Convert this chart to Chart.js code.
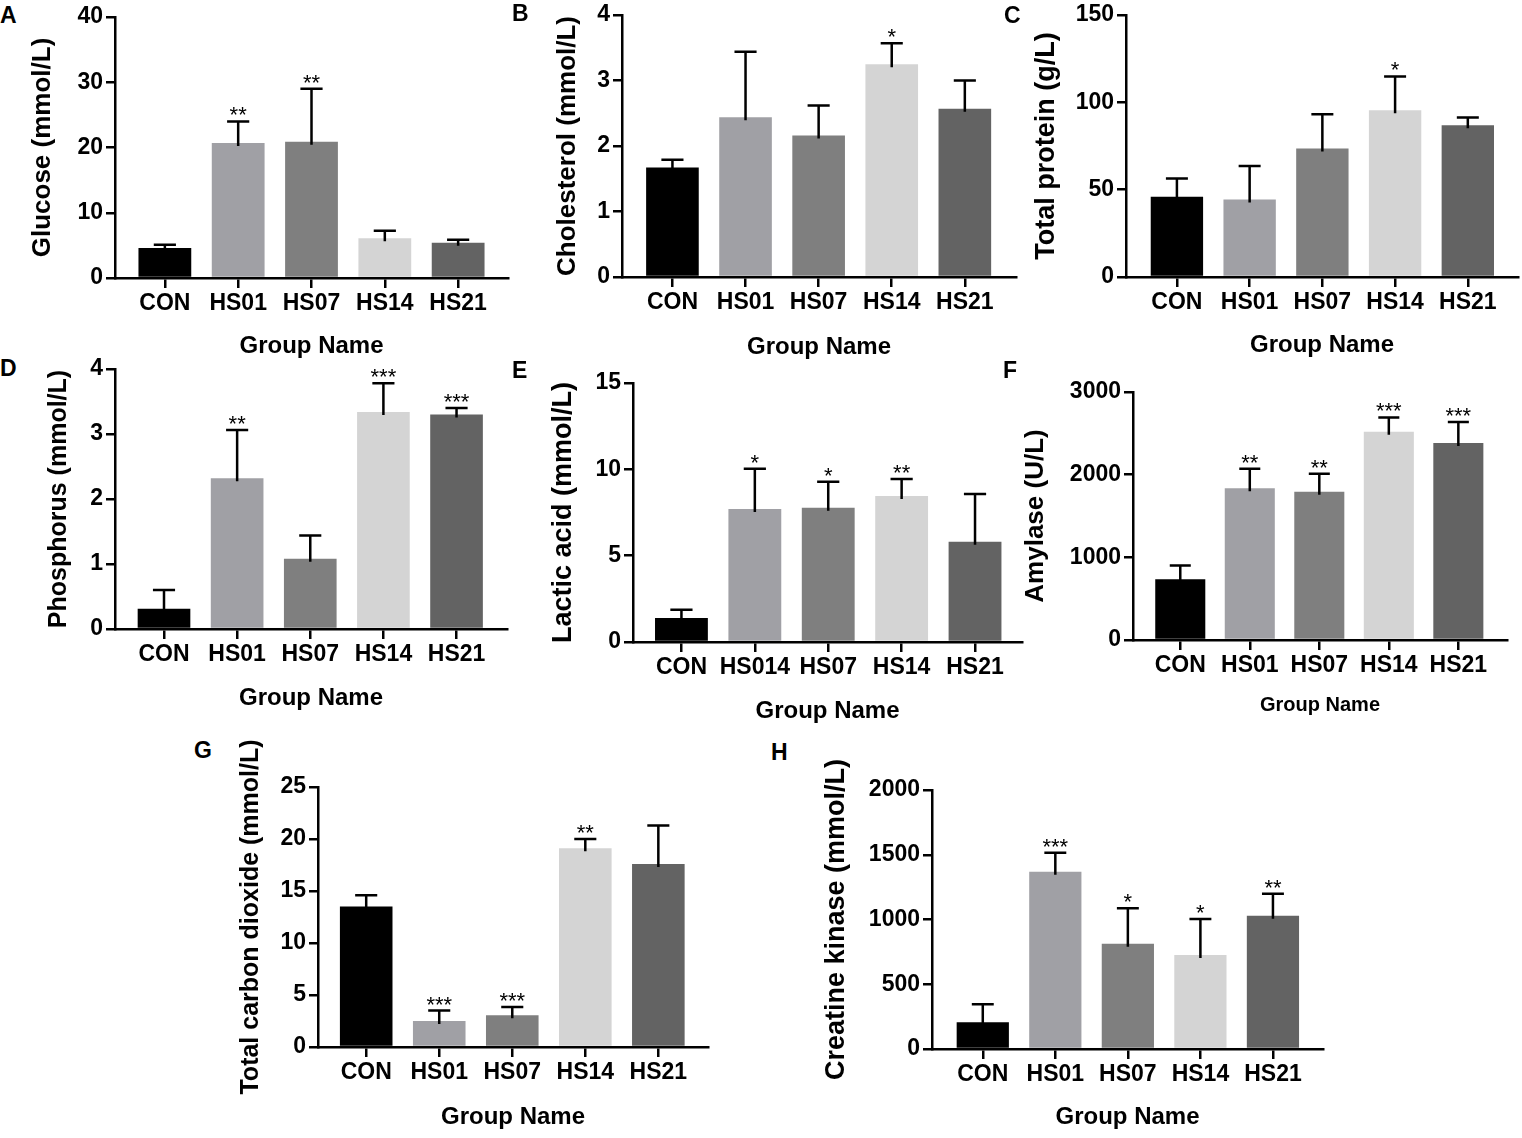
<!DOCTYPE html>
<html>
<head>
<meta charset="utf-8">
<script src="https://cdn.jsdelivr.net/npm/chart.js@4.4.1/dist/chart.umd.min.js"></script>
<style>
  body { margin: 0; background: #fff; width: 1522px; height: 1138px; position: relative; overflow: hidden;
         font-family: 'Liberation Sans', Arial, sans-serif; }
  .panel { position: absolute; }
  .tag { position: absolute; font-weight: bold; font-size: 23px; line-height: 1; color: #000; }
</style>
</head>
<body>
<script>
const FONT = "'Liberation Sans', Arial, sans-serif";

const groups = ['CON', 'HS01', 'HS07', 'HS14', 'HS21'];
const groupsLactic = ['CON', 'HS014', 'HS07', 'HS14', 'HS21'];
const barColors = ['#000000', '#a0a0a5', '#7f7f7f', '#d4d4d4', '#636363'];

// A - glucose
const glucoseMean = [4.6, 20.7, 20.9, 6.1, 5.4];
const glucoseSD = [0.5, 3.3, 8.1, 1.15, 0.45];
const glucoseSig = ['', '**', '**', '', ''];
// B - cholesterol
const cholMean = [1.67, 2.44, 2.16, 3.25, 2.57];
const cholSD = [0.12, 1.0, 0.46, 0.32, 0.43];
const cholSig = ['', '', '', '*', ''];
// C - total protein
const proteinMean = [45.9, 44.3, 73.6, 95.5, 86.9];
const proteinSD = [10.5, 19.3, 19.6, 19.3, 4.4];
const proteinSig = ['', '', '', '*', ''];
// D - phosphorus
const phosMean = [0.31, 2.32, 1.08, 3.34, 3.30];
const phosSD = [0.29, 0.74, 0.36, 0.44, 0.10];
const phosSig = ['', '**', '', '***', '***'];
// E - lactic acid
const lacticMean = [1.39, 7.70, 7.78, 8.46, 5.81];
const lacticSD = [0.48, 2.34, 1.50, 0.98, 2.76];
const lacticSig = ['', '*', '*', '**', ''];
// F - amylase
const amylaseMean = [735, 1837, 1792, 2519, 2382];
const amylaseSD = [165, 234, 218, 173, 254];
const amylaseSig = ['', '**', '**', '***', '***'];
// G - total carbon dioxide
const co2Mean = [13.5, 2.5, 3.05, 19.1, 17.6];
const co2SD = [1.1, 1.0, 0.8, 0.9, 3.7];
const co2Sig = ['', '***', '***', '**', ''];
// H - creatine kinase
const ckMean = [206, 1369, 813, 726, 1029];
const ckSD = [139, 147, 274, 278, 170];
const ckSig = ['', '***', '*', '*', '**'];

// layout of each panel on the page (axis corners, title spots)
const panels = [
  { tag: 'A', tagPos: [0, 4], labels: groups, mean: glucoseMean, sd: glucoseSD, sig: glucoseSig,
    title: 'Glucose (mmol/L)', max: 40, step: 10,
    L: 115, R: 508, T: 16.7, B: 278.3, padL: 0.68, padR: 0.68, titleX: 43, titleSize: 26, xTitleSize: 24, xTitleY: 69 },
  { tag: 'B', tagPos: [512, 2], labels: groups, mean: cholMean, sd: cholSD, sig: cholSig,
    title: 'Cholesterol (mmol/L)', max: 4, step: 1,
    L: 621.7, R: 1016, T: 15, B: 276.7, padL: 0.69, padR: 0.70, titleX: 568, titleSize: 26, xTitleSize: 24, xTitleY: 70.5 },
  { tag: 'C', tagPos: [1004, 4], labels: groups, mean: proteinMean, sd: proteinSD, sig: proteinSig,
    title: 'Total protein (g/L)', max: 150, step: 50,
    L: 1126, R: 1518, T: 15, B: 276.7, padL: 0.70, padR: 0.69, titleX: 1046, titleSize: 27, xTitleSize: 24, xTitleY: 69 },
  { tag: 'D', tagPos: [0, 357], labels: groups, mean: phosMean, sd: phosSD, sig: phosSig,
    title: 'Phosphorus (mmol/L)', max: 4, step: 1,
    L: 115, R: 507, T: 369, B: 629, padL: 0.67, padR: 0.69, titleX: 59, titleSize: 25, xTitleSize: 24, xTitleY: 69.3 },
  { tag: 'E', tagPos: [512, 359], labels: groupsLactic, mean: lacticMean, sd: lacticSD, sig: lacticSig,
    title: 'Lactic acid (mmol/L)', max: 15, step: 5,
    L: 633.3, R: 1022, T: 383.3, B: 642.3, padL: 0.66, padR: 0.64, titleX: 563, titleSize: 27, xTitleSize: 24, xTitleY: 70 },
  { tag: 'F', tagPos: [1003, 359], labels: groups, mean: amylaseMean, sd: amylaseSD, sig: amylaseSig,
    title: 'Amylase (U/L)', max: 3000, step: 1000,
    L: 1132.7, R: 1506.7, T: 392.3, B: 640, padL: 0.68, padR: 0.70, titleX: 1036, titleSize: 26, xTitleSize: 20, xTitleY: 65 },
  { tag: 'G', tagPos: [194, 739], labels: groups, mean: co2Mean, sd: co2SD, sig: co2Sig,
    title: 'Total carbon dioxide (mmol/L)', max: 25, step: 5,
    L: 317.7, R: 708, T: 786.7, B: 1046.7, padL: 0.66, padR: 0.68, titleX: 251, titleSize: 25, xTitleSize: 24, xTitleY: 71 },
  { tag: 'H', tagPos: [771, 741], labels: groups, mean: ckMean, sd: ckSD, sig: ckSig,
    title: 'Creatine kinase (mmol/L)', max: 2000, step: 500,
    L: 931.7, R: 1323, T: 790, B: 1049, padL: 0.70, padR: 0.69, titleX: 836, titleSize: 27, xTitleSize: 24, xTitleY: 69 }
];

// mean + SD whiskers (upper only) and significance stars
const errorBars = {
  id: 'errorBars',
  afterDatasetsDraw(chart) {
    const ds = chart.data.datasets[0];
    const meta = chart.getDatasetMeta(0);
    const y = chart.scales.y;
    const ctx = chart.ctx;
    ctx.save();
    ctx.strokeStyle = '#000';
    ctx.fillStyle = '#000';
    ctx.lineWidth = 2.5;
    ctx.font = '22px ' + FONT;
    ctx.textAlign = 'center';
    ctx.textBaseline = 'alphabetic';
    meta.data.forEach((bar, i) => {
      const yTop = y.getPixelForValue(ds.data[i].y + ds.sd[i]);
      const half = bar.width * 0.21;
      ctx.beginPath();
      ctx.moveTo(bar.x, bar.y + 3);
      ctx.lineTo(bar.x, yTop);
      ctx.moveTo(bar.x - half, yTop);
      ctx.lineTo(bar.x + half, yTop);
      ctx.stroke();
      if (ds.sig[i]) ctx.fillText(ds.sig[i], bar.x, yTop + 1);
    });
    ctx.restore();
  }
};

const axisLine = { display: true, color: '#000', width: 2.5 };
const tickMarks = { display: true, drawOnChartArea: false, drawTicks: true, tickLength: 9, color: '#000', lineWidth: 2.5, offset: false };
const xTickMarks = { display: true, drawOnChartArea: false, drawTicks: true, tickLength: 10, color: '#000', lineWidth: 2.5, offset: false };

panels.forEach(p => {
  const padTop = 60, padRight = 6;
  const left = Math.round(p.titleX - (4 + 0.6 * p.titleSize));
  const top = Math.round(p.T - padTop);
  const yW = Math.round(p.L - left);
  const xH = Math.round(p.xTitleY + 4 + 0.6 * p.xTitleSize);
  const w = Math.round(p.R + padRight - left);
  const h = Math.round(p.B - top + xH);

  const tag = document.createElement('div');
  tag.className = 'tag';
  tag.textContent = p.tag;
  tag.style.left = p.tagPos[0] + 'px';
  tag.style.top = p.tagPos[1] + 'px';
  document.body.appendChild(tag);

  const box = document.createElement('div');
  box.className = 'panel';
  box.style.left = left + 'px';
  box.style.top = top + 'px';
  const cv = document.createElement('canvas');
  cv.width = w; cv.height = h;
  cv.style.width = w + 'px'; cv.style.height = h + 'px';
  box.appendChild(cv);
  document.body.appendChild(box);

  new Chart(cv.getContext('2d'), {
    type: 'bar',
    data: {
      datasets: [{
        data: p.mean.map((v, i) => ({ x: i, y: v })),
        backgroundColor: barColors,
        borderWidth: 0,
        barPercentage: 0.9,
        categoryPercentage: 0.8,
        sd: p.sd,
        sig: p.sig
      }]
    },
    options: {
      responsive: false,
      animation: false,
      layout: { padding: { top: padTop, right: padRight, left: 0, bottom: 0 } },
      plugins: { legend: { display: false }, tooltip: { enabled: false } },
      scales: {
        x: {
          type: 'linear',
          offset: false,
          min: -p.padL,
          max: p.labels.length - 1 + p.padR,
          afterFit: s => { s.height = xH; },
          // one tick per group, at the bar centres
          afterBuildTicks: s => { s.ticks = p.labels.map((_, i) => ({ value: i })); },
          ticks: {
            stepSize: 1, autoSkip: false, maxRotation: 0, padding: 2, color: '#000',
            font: { family: FONT, size: 23, weight: 'bold' },
            callback: v => p.labels[v]
          },
          grid: xTickMarks,
          border: axisLine,
          title: {
            display: true, text: 'Group Name', color: '#000',
            font: { family: FONT, size: p.xTitleSize, weight: 'bold' },
            padding: { top: 0, bottom: 4 }
          }
        },
        y: {
          min: 0,
          max: p.max,
          afterFit: s => { s.width = yW; },
          ticks: {
            stepSize: p.step, padding: 3, color: '#000',
            font: { family: FONT, size: 23, weight: 'bold' },
            callback: v => String(v)
          },
          grid: tickMarks,
          border: axisLine,
          title: {
            display: true, text: p.title, color: '#000',
            font: { family: FONT, size: p.titleSize, weight: 'bold' },
            padding: { top: 4, bottom: 0 }
          }
        }
      }
    },
    plugins: [errorBars]
  });
});
</script>
</body>
</html>
